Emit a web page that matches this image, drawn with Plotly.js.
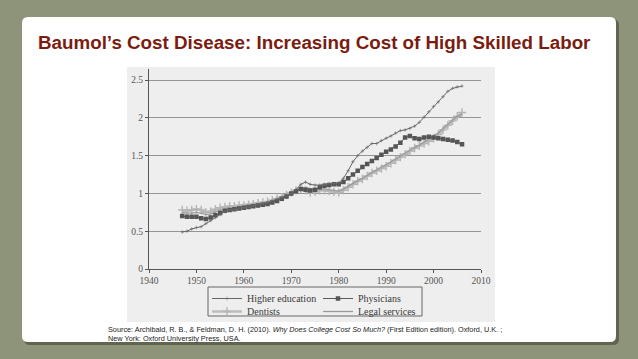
<!DOCTYPE html>
<html>
<head>
<meta charset="utf-8">
<script src="https://cdn.plot.ly/plotly-3.0.1.min.js"></script>
<style>html,body{margin:0;padding:0;background:#8e9479;}#chart{width:638px;height:359px;}</style>
</head>
<body>
<div id="chart"></div>
<script>
// ---- data (index, 1970 = 1) ----
const years = [1947,1948,1949,1950,1951,1952,1953,1954,1955,1956,1957,1958,1959,
  1960,1961,1962,1963,1964,1965,1966,1967,1968,1969,1970,1971,1972,1973,1974,1975,
  1976,1977,1978,1979,1980,1981,1982,1983,1984,1985,1986,1987,1988,1989,1990,1991,
  1992,1993,1994,1995,1996,1997,1998,1999,2000,2001,2002,2003,2004,2005,2006];

const higherEducation = [0.49,0.50,0.53,0.55,0.56,0.60,0.64,0.68,0.72,0.76,0.78,0.79,0.80,
  0.81,0.82,0.84,0.85,0.86,0.88,0.90,0.92,0.94,0.97,1.00,1.05,1.12,1.15,1.12,1.11,
  1.11,1.12,1.13,1.13,1.14,1.20,1.30,1.42,1.50,1.56,1.61,1.66,1.66,1.70,1.73,1.76,
  1.80,1.83,1.84,1.86,1.89,1.94,2.01,2.08,2.15,2.21,2.28,2.35,2.39,2.41,2.42];

const physicians = [0.70,0.69,0.69,0.69,0.67,0.66,0.68,0.71,0.74,0.77,0.78,0.79,0.80,
  0.81,0.82,0.83,0.84,0.85,0.86,0.88,0.90,0.93,0.96,1.00,1.03,1.06,1.05,1.04,1.05,
  1.08,1.10,1.11,1.12,1.12,1.15,1.20,1.25,1.30,1.35,1.39,1.43,1.47,1.51,1.55,1.58,
  1.62,1.67,1.74,1.76,1.73,1.72,1.74,1.75,1.74,1.73,1.72,1.71,1.70,1.68,1.65];

const dentists = [0.78,0.77,0.78,0.79,0.78,0.75,0.76,0.79,0.81,0.82,0.83,0.83,0.84,
  0.84,0.85,0.86,0.87,0.88,0.89,0.91,0.93,0.95,0.98,1.01,1.04,1.06,1.04,1.01,1.02,
  1.04,1.04,1.03,1.02,1.01,1.04,1.08,1.12,1.16,1.19,1.23,1.27,1.30,1.33,1.36,1.40,
  1.44,1.48,1.52,1.56,1.60,1.63,1.66,1.69,1.73,1.78,1.84,1.90,1.96,2.02,2.07];

const legalServices = [0.75,0.74,0.74,0.75,0.74,0.72,0.73,0.76,0.78,0.79,0.80,0.81,0.82,
  0.83,0.84,0.85,0.86,0.87,0.88,0.90,0.92,0.94,0.97,1.00,1.03,1.07,1.08,1.06,1.05,
  1.06,1.06,1.05,1.04,1.03,1.06,1.10,1.13,1.17,1.20,1.24,1.28,1.31,1.35,1.38,1.42,
  1.46,1.50,1.54,1.57,1.61,1.64,1.68,1.71,1.75,1.80,1.86,1.92,1.97,2.02,2.05];

const xTickVals = [1940,1950,1960,1970,1980,1990,2000,2010];
const yTickVals = [0,0.5,1,1.5,2,2.5];
const yTickText = ['0','0.5','1','1.5','2','2.5'];

const titleText = "Baumol\u2019s Cost Disease: Increasing Cost of High Skilled Labor";
const sourceLine1 = "Source: Archibald, R. B., & Feldman, D. H. (2010). <i>Why Does College Cost So Much?</i> (First Edition edition). Oxford, U.K. ;";
const sourceLine2 = "New York: Oxford University Press, USA.";

// ---- layout helpers (pixel -> paper) ----
const W = 638, H = 359;
const px = x => x / W;
const py = y => 1 - y / H;
function roundRect(x0, y0, x1, y1, r) {
  const rx = r / W, ry = r / H;
  const a = px(x0), b = px(x1), t = py(y0), u = py(y1);
  return `M${a+rx},${t} L${b-rx},${t} Q${b},${t} ${b},${t-ry} L${b},${u+ry} Q${b},${u} ${b-rx},${u} L${a+rx},${u} Q${a},${u} ${a},${u+ry} L${a},${t-ry} Q${a},${t} ${a+rx},${t} Z`;
}

const serif = 'Liberation Serif, DejaVu Serif, serif';

const traces = [
  {x: years, y: dentists, name: 'Dentists', type: 'scatter', mode: 'lines+markers',
   line: {color: '#bdbdbd', width: 2.5}, marker: {symbol: 'cross-thin', size: 6, color: '#b5b5b5', line: {color: '#b5b5b5', width: 1.4}},
   legend: 'legend3'},
  {x: years, y: legalServices, name: 'Legal services', type: 'scatter', mode: 'lines',
   line: {color: '#9a9a9a', width: 1.3}, legend: 'legend4'},
  {x: years, y: physicians, name: 'Physicians', type: 'scatter', mode: 'lines+markers',
   line: {color: '#5a5a5a', width: 1}, marker: {symbol: 'square', size: 4.5, color: '#555555'},
   legend: 'legend2'},
  {x: years, y: higherEducation, name: 'Higher education', type: 'scatter', mode: 'lines+markers',
   line: {color: '#686868', width: 1}, marker: {symbol: 'cross-thin', size: 2.5, color: '#686868', line: {color: '#686868', width: 0.6}},
   legend: 'legend'}
];

const legendBase = {
  orientation: 'v', bgcolor: 'rgba(0,0,0,0)', borderwidth: 0,
  font: {family: serif, size: 10, color: '#3a3a3a'},
  xanchor: 'left', yanchor: 'top', itemwidth: 30
};
const col1 = 207, col2 = 318, row1 = 284, row2 = 297;

const layout = {
  width: W, height: H,
  margin: {l: 0, r: 0, t: 0, b: 0},
  paper_bgcolor: '#8e9479',
  plot_bgcolor: 'rgba(0,0,0,0)',
  showlegend: true,
  xaxis: {
    domain: [px(149), px(481)], range: [1940, 2010],
    tickvals: xTickVals, ticks: 'outside', ticklen: 3, tickcolor: '#555',
    showline: true, linecolor: '#555', linewidth: 1, showgrid: false, zeroline: false,
    tickfont: {family: serif, size: 9.5, color: '#555'}, fixedrange: true
  },
  yaxis: {
    domain: [py(269), py(68.7)], range: [0, 2.65],
    tickvals: yTickVals, ticktext: yTickText, ticks: 'outside', ticklen: 3, tickcolor: '#555',
    showline: true, linecolor: '#555', linewidth: 1, showgrid: true, gridcolor: '#959595', gridwidth: 1,
    zeroline: false, tickfont: {family: serif, size: 9.5, color: '#555'}, fixedrange: true
  },
  legend: Object.assign({}, legendBase, {x: px(col1), y: py(row1)}),
  legend2: Object.assign({}, legendBase, {x: px(col2), y: py(row1)}),
  legend3: Object.assign({}, legendBase, {x: px(col1), y: py(row2)}),
  legend4: Object.assign({}, legendBase, {x: px(col2), y: py(row2)}),
  shapes: [
    {type: 'path', xref: 'paper', yref: 'paper', path: roundRect(24, 19, 619, 345, 6),
     fillcolor: 'rgba(40,42,30,0.45)', line: {width: 0}, layer: 'below'},
    {type: 'path', xref: 'paper', yref: 'paper', path: roundRect(22, 17, 616, 342, 6),
     fillcolor: '#ffffff', line: {width: 0}, layer: 'below'},
    {type: 'rect', xref: 'paper', yref: 'paper', x0: px(127), x1: px(495), y0: py(322), y1: py(67),
     fillcolor: '#eeeeee', line: {width: 0}, layer: 'below'},
    {type: 'rect', xref: 'paper', yref: 'paper', x0: px(208), x1: px(422), y0: py(316), y1: py(287),
     fillcolor: 'rgba(0,0,0,0)', line: {color: '#666', width: 1}}
  ],
  annotations: [
    {text: '<b>' + titleText + '</b>', xref: 'paper', yref: 'paper', x: px(314), y: py(42),
     xanchor: 'center', yanchor: 'middle', showarrow: false,
     font: {family: 'Liberation Sans, Arial, sans-serif', size: 18.8, color: '#7a1c10'}},
    {text: sourceLine1, xref: 'paper', yref: 'paper', x: px(106), y: py(329.5),
     xanchor: 'left', yanchor: 'middle', showarrow: false,
     font: {family: 'Liberation Sans, Arial, sans-serif', size: 7.3, color: '#222'}},
    {text: sourceLine2, xref: 'paper', yref: 'paper', x: px(106), y: py(338.5),
     xanchor: 'left', yanchor: 'middle', showarrow: false,
     font: {family: 'Liberation Sans, Arial, sans-serif', size: 7.3, color: '#222'}}
  ]
};

Plotly.newPlot('chart', traces, layout, {staticPlot: true, displayModeBar: false});
</script>
</body>
</html>
